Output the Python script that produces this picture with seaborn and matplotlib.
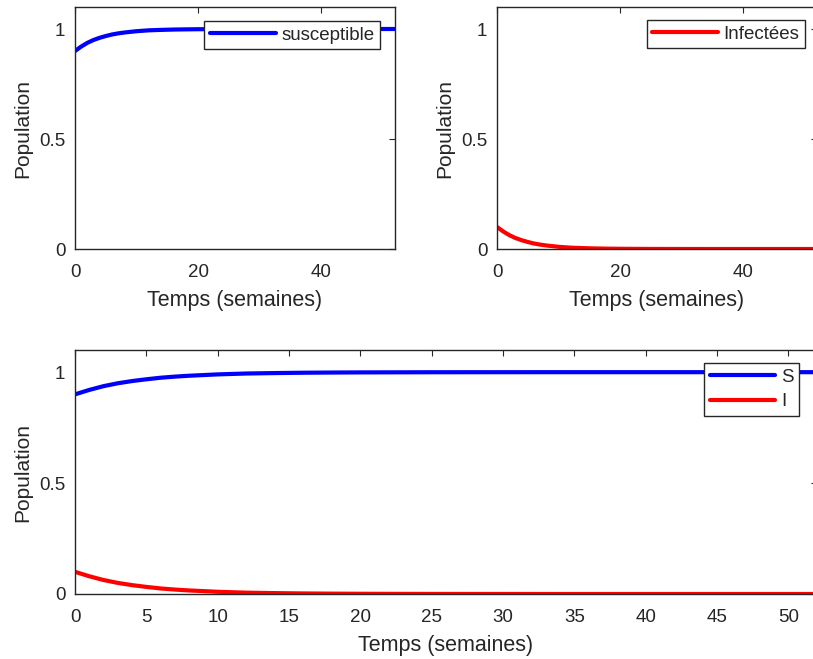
import matplotlib
matplotlib.use("Agg")
import matplotlib.pyplot as plt
import seaborn as sns
import pandas as pd

# Simulation output (weeks, population fractions)
weeks = [0, 1, 2, 3, 4, 5, 6, 7, 8, 9, 10, 12, 14, 16, 18, 20, 25, 30, 35, 40, 45, 52]
susceptible = [0.900, 0.920, 0.937, 0.950, 0.960, 0.968, 0.975, 0.980, 0.984, 0.987,
               0.990, 0.994, 0.996, 0.9975, 0.9984, 0.999, 0.9997, 0.9999, 1.0, 1.0, 1.0, 1.0]
infected = [0.100, 0.080, 0.063, 0.050, 0.040, 0.032, 0.025, 0.020, 0.016, 0.013,
            0.010, 0.006, 0.004, 0.0025, 0.0016, 0.001, 0.0003, 0.0001, 0.0, 0.0, 0.0, 0.0]

top_xticks = [0, 20, 40]
bottom_xticks = [0, 5, 10, 15, 20, 25, 30, 35, 40, 45, 50]
yticks = [0, 0.5, 1]
ytick_labels = ["0", "0.5", "1"]

df_s = pd.DataFrame({"t": weeks, "v": susceptible})
df_i = pd.DataFrame({"t": weeks, "v": infected})

sns.set_style("white")
plt.rcParams["font.family"] = ["Liberation Sans", "DejaVu Sans"]

DARK = "#262626"
LW = 3.0
W, H = 813, 659
fig = plt.figure(figsize=(W / 100, H / 100), dpi=100)


def frac(left, top, right, bottom):
    return [left / W, (H - bottom) / H, (right - left) / W, (bottom - top) / H]


ax1 = fig.add_axes(frac(75, 7, 395, 249))
ax2 = fig.add_axes(frac(497, 7, 817, 249))
ax3 = fig.add_axes(frac(75, 350, 817, 594))

sns.lineplot(data=df_s, x="t", y="v", ax=ax1, color="#0000ff", lw=LW, label="susceptible")
sns.lineplot(data=df_i, x="t", y="v", ax=ax2, color="#ff0000", lw=LW, label="Infectées")
sns.lineplot(data=df_s, x="t", y="v", ax=ax3, color="#0000ff", lw=LW, label="S")
sns.lineplot(data=df_i, x="t", y="v", ax=ax3, color="#ff0000", lw=LW, label="I")

for ax, xt in ((ax1, top_xticks), (ax2, top_xticks), (ax3, bottom_xticks)):
    ax.set_xlim(0, 52)
    ax.set_ylim(0, 1.1)
    ax.set_xticks(xt)
    ax.set_xticklabels([str(v) for v in xt])
    ax.set_yticks(yticks)
    ax.set_yticklabels(ytick_labels)
    ax.tick_params(axis="both", direction="in", length=4.5, width=0.8, color=DARK,
                   labelcolor=DARK, labelsize=13.5, top=True, right=True)
    ax.tick_params(axis="x", pad=11)
    ax.tick_params(axis="y", pad=7)
    for sp in ax.spines.values():
        sp.set_visible(True)
        sp.set_color(DARK)
        sp.set_linewidth(1.0)
    ax.set_xlabel("Temps (semaines)", fontsize=15.5, color=DARK, labelpad=6)
    ax.set_ylabel("Population", fontsize=15, color=DARK, labelpad=5)

legend_kw = dict(loc="upper right", fontsize=13.5, frameon=True, fancybox=False,
                 edgecolor=DARK, framealpha=1, borderaxespad=0, handlelength=3.5,
                 handletextpad=0.3, borderpad=0.3, labelspacing=0.4)
for ax, anchor in ((ax1, (0.953, 0.942)), (ax2, (0.9625, 0.946)), (ax3, (0.976, 0.947))):
    leg = ax.legend(bbox_to_anchor=anchor, **legend_kw)
    leg.get_frame().set_linewidth(1.0)
    for t in leg.get_texts():
        t.set_color(DARK)
    for h in leg.get_lines():
        h.set_linewidth(LW)

fig.savefig("out.png", dpi=100)
